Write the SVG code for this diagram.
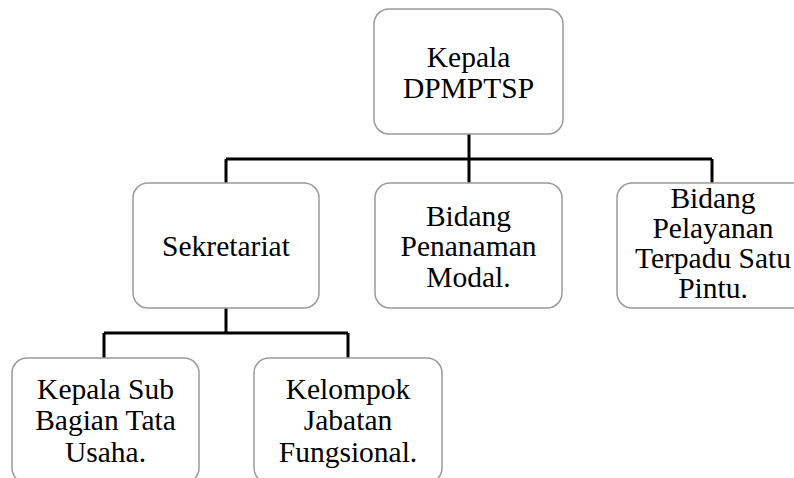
<svg xmlns="http://www.w3.org/2000/svg" width="794" height="478" viewBox="0 0 794 478">
<style>
.box{fill:#fff;stroke:#9a9a9a;stroke-width:1.5}
.t{font-family:"Liberation Serif","Times New Roman",serif;font-size:29.5px;fill:#000;text-anchor:middle}
.c{fill:none;stroke:#000;stroke-width:3}
</style>
<rect width="794" height="478" fill="#fff"/>
<g id="connectors">
<path class="c" d="M469 134V159M226 159H712M226 159V183M469 159V183M712 159V183"/>
<path class="c" d="M226 308V333M104 333H348M104 333V358M348 333V358"/>
</g>
<g id="kepala">
<rect class="box" x="374" y="9" width="189" height="125" rx="15"/>
<text class="t" x="468.5" y="67">Kepala</text>
<text class="t" x="468.5" y="98">DPMPTSP</text>
</g>
<g id="sekretariat">
<rect class="box" x="133" y="183" width="186" height="125" rx="15"/>
<text class="t" x="226" y="256">Sekretariat</text>
</g>
<g id="penanaman">
<rect class="box" x="375" y="183" width="187" height="125" rx="15"/>
<text class="t" x="468.5" y="226">Bidang</text>
<text class="t" x="468.5" y="256">Penanaman</text>
<text class="t" x="468.5" y="287">Modal.</text>
</g>
<g id="pelayanan">
<rect class="box" x="617" y="183" width="192" height="125" rx="15"/>
<text class="t" x="713" y="208">Bidang</text>
<text class="t" x="713" y="238">Pelayanan</text>
<text class="t" x="713" y="268">Terpadu Satu</text>
<text class="t" x="713" y="298">Pintu.</text>
</g>
<g id="kasubag">
<rect class="box" x="12" y="358" width="187" height="125" rx="15"/>
<text class="t" x="105.5" y="399">Kepala Sub</text>
<text class="t" x="105.5" y="430">Bagian Tata</text>
<text class="t" x="105.5" y="462">Usaha.</text>
</g>
<g id="fungsional">
<rect class="box" x="254" y="358" width="188" height="125" rx="15"/>
<text class="t" x="348" y="399">Kelompok</text>
<text class="t" x="348" y="430">Jabatan</text>
<text class="t" x="348" y="462">Fungsional.</text>
</g>
</svg>
